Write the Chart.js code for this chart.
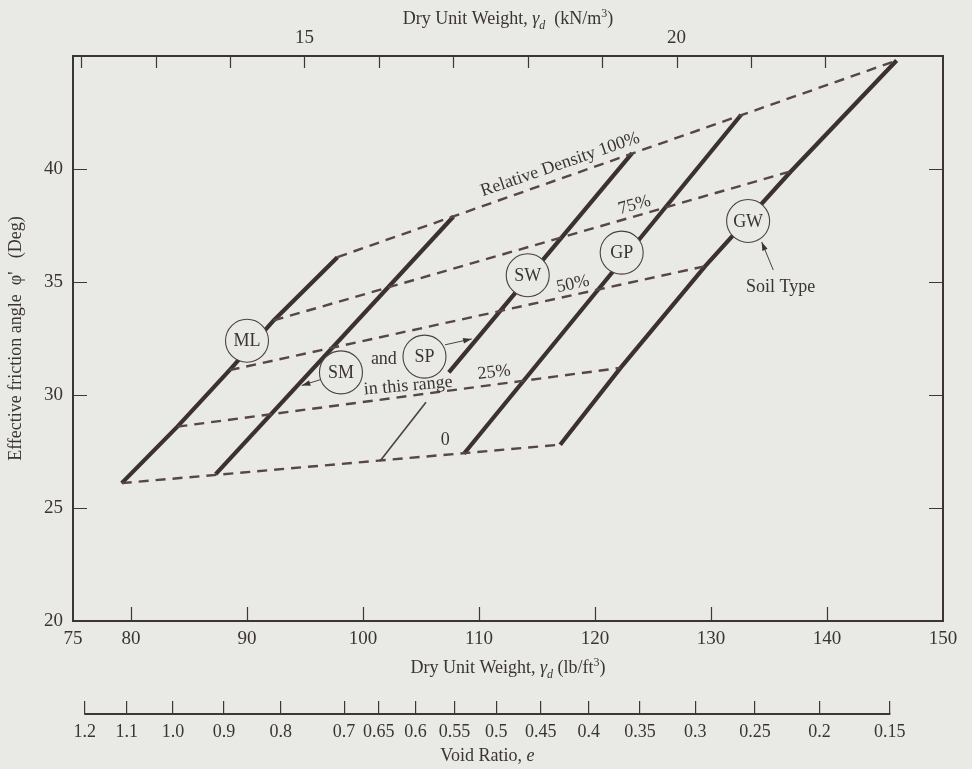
<!DOCTYPE html>
<html>
<head>
<meta charset="utf-8">
<script src="https://cdn.jsdelivr.net/npm/chart.js@4.4.1/dist/chart.umd.min.js"></script>
<style>
  html, body { margin: 0; padding: 0; background: #e9e9e5; }
</style>
</head>
<body>
<canvas id="grafico" width="972" height="769"></canvas>
<script>
// relative density levels (dashed), read where they meet the ML and GW lines
const densityLevels = ['0', '25%', '50%', '75%', '100%'];
const mlGamma = [79.2, 84.0, 88.5, 92.3, 97.8];
const mlPhi = [26.1, 28.6, 31.1, 33.3, 36.1];
const gwGamma = [117.0, 122.2, 129.5, 136.9, 146.0];
const gwPhi = [27.8, 31.2, 35.7, 39.9, 44.8];

// the other soil lines, loose end -> dense end
const smGamma = [87.3, 107.8];
const smPhi = [26.5, 37.9];
const swGamma = [107.4, 123.2];
const swPhi = [31.0, 40.7];
const gpGamma = [108.7, 132.6];
const gpPhi = [27.4, 42.4];

// circled soil types
const tagNames = ['ML', 'SM', 'SP', 'SW', 'GP', 'GW'];
const tagGamma = [90.0, 98.1, 105.3, 114.2, 122.3, 133.2];
const tagPhi = [32.4, 31.0, 31.7, 35.3, 36.3, 37.7];

// text notes on the plot
const noteText = ['Relative Density 100%', '75%', '50%', '25%', '0', 'and', 'in this range', 'Soil Type'];
const noteGamma = [117.0, 123.4, 118.1, 111.3, 107.1, 101.8, 103.9, 136.0];
const notePhi = [40.2, 38.4, 34.9, 31.0, 28.0, 31.6, 30.4, 34.75];
const noteAngle = [-19, -16, -12, -7, 0, 0, -5, 0];

// arrows [from, to]
const arrowFrom = [[135.37, 35.53], [96.58, 30.72], [107.07, 32.22]];
const arrowTo = [[134.37, 36.77], [94.72, 30.42], [109.37, 32.48]];
const leaderFrom = [105.43, 29.68];
const leaderTo = [101.47, 27.08];

// axes
const xTicks = [75, 80, 90, 100, 110, 120, 130, 140, 150];
const yTicks = [20, 25, 30, 35, 40];
const kNTicks = [12, 13, 14, 15, 16, 17, 18, 19, 20, 21, 22];
const kNLabels = [15, 20];
const voidTicks = [1.2, 1.1, 1.0, 0.9, 0.8, 0.7, 0.65, 0.6, 0.55, 0.5, 0.45, 0.4, 0.35, 0.3, 0.25, 0.2, 0.15];
const voidLabels = ['1.2', '1.1', '1.0', '0.9', '0.8', '0.7', '0.65', '0.6', '0.55', '0.5', '0.45', '0.4', '0.35', '0.3', '0.25', '0.2', '0.15'];

const GSW = 2.68 * 62.4; // Gs * gamma_w
const gammaFromE = e => GSW / (1 + e);

const FONT = '"Liberation Serif", "Times New Roman", serif';
const INK = '#3a3434';
const BG = '#e9e9e5';
Chart.defaults.font.family = FONT;
Chart.defaults.color = INK;

function pts(xs, ys) {
  return xs.map((x, i) => ({ x: x, y: ys[i] }));
}

const dashed = densityLevels.map((d, i) => ({
  label: d,
  data: [{ x: mlGamma[i], y: mlPhi[i] }, { x: gwGamma[i], y: gwPhi[i] }],
  borderColor: '#574646',
  borderWidth: 2.4,
  borderDash: [10, 7],
}));

const solid = [
  pts(mlGamma, mlPhi), pts(smGamma, smPhi), pts(swGamma, swPhi),
  pts(gpGamma, gpPhi), pts(gwGamma, gwPhi)
].map(d => ({ data: d, borderColor: '#3b3131', borderWidth: 4.2 }));

// draws text with sub/superscript pieces: [text, mode]
function richText(ctx, parts, x, y, size, align) {
  const fontFor = m => (m.indexOf('i') >= 0 ? 'italic ' : '') + ((m.indexOf('sub') >= 0 || m.indexOf('sup') >= 0) ? Math.round(size * 0.68) : size) + 'px ' + FONT;
  let w = 0;
  parts.forEach(p => { ctx.font = fontFor(p[1]); w += ctx.measureText(p[0]).width; });
  let cx = align === 'center' ? x - w / 2 : x;
  ctx.textAlign = 'left';
  ctx.textBaseline = 'alphabetic';
  parts.forEach(p => {
    ctx.font = fontFor(p[1]);
    let dy = 0;
    if (p[1].indexOf('sub') >= 0) dy = size * 0.25;
    if (p[1].indexOf('sup') >= 0) dy = -size * 0.38;
    ctx.fillText(p[0], cx, y + dy);
    cx += ctx.measureText(p[0]).width;
  });
}

function arrow(ctx, x1, y1, x2, y2, head) {
  ctx.beginPath(); ctx.moveTo(x1, y1); ctx.lineTo(x2, y2); ctx.stroke();
  if (!head) return;
  const a = Math.atan2(y2 - y1, x2 - x1);
  ctx.beginPath();
  ctx.moveTo(x2, y2);
  ctx.lineTo(x2 - 9 * Math.cos(a - 0.32), y2 - 9 * Math.sin(a - 0.32));
  ctx.lineTo(x2 - 9 * Math.cos(a + 0.32), y2 - 9 * Math.sin(a + 0.32));
  ctx.closePath(); ctx.fill();
}

const frame = {
  id: 'frame',
  beforeDraw(chart) {
    const ctx = chart.ctx;
    ctx.save();
    ctx.fillStyle = BG;
    ctx.fillRect(0, 0, chart.width, chart.height);
    ctx.restore();
  },
  afterDraw(chart) {
    const { ctx, chartArea: a, scales } = chart;
    ctx.save();
    ctx.strokeStyle = '#3f3737';
    ctx.lineWidth = 1.2;
    ctx.beginPath();
    scales.x.ticks.forEach(t => {
      if (t.value <= 75 || t.value >= 150) return;
      const p = Math.round(scales.x.getPixelForValue(t.value)) + 0.5;
      ctx.moveTo(p, a.bottom); ctx.lineTo(p, a.bottom - 14);
    });
    scales.x2.ticks.forEach(t => {
      const p = Math.round(scales.x2.getPixelForValue(t.value)) + 0.5;
      ctx.moveTo(p, a.top); ctx.lineTo(p, a.top + 12);
    });
    scales.y.ticks.forEach(t => {
      if (t.value <= 20 || t.value >= 45) return;
      const p = Math.round(scales.y.getPixelForValue(t.value)) + 0.5;
      ctx.moveTo(a.left, p); ctx.lineTo(a.left + 14, p);
      ctx.moveTo(a.right, p); ctx.lineTo(a.right - 14, p);
    });
    ctx.stroke();

    // void ratio base line
    const xe = scales.xe;
    const e0 = xe.getPixelForValue(xe.ticks[0].value);
    const e1 = xe.getPixelForValue(xe.ticks[xe.ticks.length - 1].value);
    ctx.lineWidth = 1.8;
    ctx.beginPath();
    ctx.moveTo(e0 - 0.5, xe.top + 13); ctx.lineTo(e1 + 0.5, xe.top + 13);
    ctx.stroke();

    // axis titles
    ctx.fillStyle = INK;
    const mid = (a.left + a.right) / 2;
    richText(ctx, [['Dry Unit Weight, ', ''], ['γ', 'i'], ['d', 'i sub'], ['  (kN/m', ''], ['3', 'sup'], [')', '']], mid, 24, 18, 'center');
    richText(ctx, [['Dry Unit Weight, ', ''], ['γ', 'i'], ['d', 'i sub'], [' (lb/ft', ''], ['3', 'sup'], [')', '']], mid, 673, 18, 'center');
    richText(ctx, [['Void Ratio, ', ''], ['e', 'i']], (e0 + e1) / 2, 761, 18, 'center');
    ctx.save();
    ctx.translate(21, (a.top + a.bottom) / 2);
    ctx.rotate(-Math.PI / 2);
    richText(ctx, [["Effective friction angle  φ'   (Deg)", '']], 0, 0, 18, 'center');
    ctx.restore();
    ctx.restore();
  }
};

const notes = {
  id: 'notes',
  afterDatasetsDraw(chart) {
    const { ctx, scales: { x, y } } = chart;
    ctx.save();
    ctx.fillStyle = INK;
    ctx.strokeStyle = '#4a4242';

    // arrows and leader line
    ctx.lineWidth = 1;
    arrowFrom.forEach((f, i) => {
      arrow(ctx, x.getPixelForValue(f[0]), y.getPixelForValue(f[1]),
        x.getPixelForValue(arrowTo[i][0]), y.getPixelForValue(arrowTo[i][1]), true);
    });
    ctx.lineWidth = 1.6;
    arrow(ctx, x.getPixelForValue(leaderFrom[0]), y.getPixelForValue(leaderFrom[1]),
      x.getPixelForValue(leaderTo[0]), y.getPixelForValue(leaderTo[1]), false);

    // circled tags
    ctx.lineWidth = 1.1;
    ctx.font = '18px ' + FONT;
    ctx.textAlign = 'center';
    ctx.textBaseline = 'middle';
    tagNames.forEach((n, i) => {
      const px = x.getPixelForValue(tagGamma[i]);
      const py = y.getPixelForValue(tagPhi[i]);
      ctx.beginPath();
      ctx.arc(px, py, 21.5, 0, Math.PI * 2);
      ctx.fillStyle = BG;
      ctx.fill();
      ctx.stroke();
      ctx.fillStyle = INK;
      ctx.fillText(n, px, py + 1);
    });

    // notes
    noteText.forEach((t, i) => {
      ctx.save();
      ctx.translate(x.getPixelForValue(noteGamma[i]), y.getPixelForValue(notePhi[i]));
      ctx.rotate(noteAngle[i] * Math.PI / 180);
      ctx.fillText(t, 0, 0);
      ctx.restore();
    });
    ctx.restore();
  }
};

const tickFont = { size: 19 };

new Chart(document.getElementById('grafico'), {
  type: 'scatter',
  data: { datasets: dashed.concat(solid) },
  options: {
    responsive: false,
    animation: false,
    layout: { padding: 0 },
    elements: { point: { radius: 0 }, line: { tension: 0 } },
    datasets: { scatter: { showLine: true, pointRadius: 0, fill: false } },
    plugins: { legend: { display: false }, tooltip: { enabled: false }, title: { display: false } },
    scales: {
      x: {
        type: 'linear', position: 'bottom', weight: 1, min: 75, max: 150,
        afterBuildTicks: ax => { ax.ticks = xTicks.map(v => ({ value: v })); },
        ticks: { font: tickFont, padding: 7, autoSkip: false, maxRotation: 0 },
        grid: { display: false, drawTicks: false },
        border: { color: '#3d3535', width: 2 },
        afterFit: ax => { ax.height = 80; }
      },
      xe: {
        type: 'linear', position: 'bottom', weight: 2, min: 75, max: 150,
        afterBuildTicks: ax => { ax.ticks = voidTicks.map(e => ({ value: gammaFromE(e) })); },
        ticks: { font: { size: 18 }, padding: 7, autoSkip: false, maxRotation: 0, callback: (v, i) => voidLabels[i] },
        grid: { display: true, drawOnChartArea: false, drawTicks: true, tickLength: 13, color: '#3f3737', lineWidth: 1.2 },
        border: { display: false },
        afterFit: ax => { ax.height = 68; }
      },
      x2: {
        type: 'linear', position: 'top', min: 11.89, max: 23.58,
        afterBuildTicks: ax => { ax.ticks = kNTicks.map(v => ({ value: v })); },
        ticks: { font: tickFont, padding: 7, autoSkip: false, maxRotation: 0, callback: v => (kNLabels.includes(v) ? String(v) : '') },
        grid: { display: false, drawTicks: false },
        border: { color: '#3d3535', width: 2 },
        afterFit: ax => { ax.height = 56; }
      },
      y: {
        type: 'linear', position: 'left', min: 20, max: 45,
        afterBuildTicks: ax => { ax.ticks = yTicks.map(v => ({ value: v })); },
        ticks: { font: tickFont, padding: 10, autoSkip: false },
        grid: { display: false, drawTicks: false },
        border: { color: '#3d3535', width: 2 },
        afterFit: ax => { ax.width = 73; }
      },
      yr: {
        type: 'linear', position: 'right', min: 20, max: 45,
        ticks: { display: false },
        grid: { display: false, drawTicks: false },
        border: { color: '#3d3535', width: 2 },
        afterFit: ax => { ax.width = 29; }
      }
    }
  },
  plugins: [frame, notes]
});
</script>
</body>
</html>
